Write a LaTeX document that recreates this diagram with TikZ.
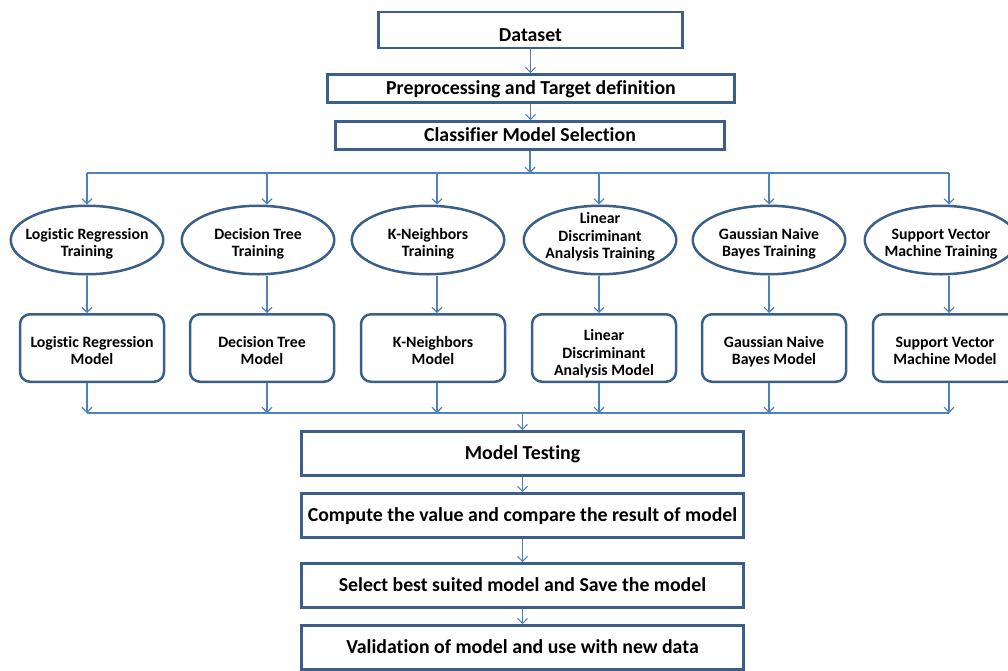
\documentclass[tikz,border=0pt]{standalone}
\usepackage{fontspec}
\setmainfont{Carlito}[Ligatures={NoCommon}]
\usetikzlibrary{arrows.meta,shapes.geometric}
\definecolor{boxblue}{HTML}{3A5F8B}
\definecolor{lineblue}{HTML}{4F81BD}

\begin{document}
\begin{tikzpicture}[x=1pt, y=-1pt, >={Straight Barb[length=5pt,width=10pt]},
  stage/.style={draw=boxblue, line width=2.8pt, inner sep=0pt, text height=15.6pt, text depth=3.4pt,
    font=\fontsize{19.8}{22}\selectfont\bfseries},
  train/.style={ellipse, draw=boxblue, line width=2.5pt, minimum width=152.5pt, minimum height=68.5pt,
    inner xsep=-25pt, inner ysep=-12pt, text depth=0pt, align=center, font=\fontsize{15.8}{17.5}\selectfont\bfseries},
  model/.style={draw=boxblue, line width=2.5pt, rounded corners=10pt, minimum width=144pt, minimum height=67.5pt,
    inner sep=0pt, text depth=0pt, align=center, font=\fontsize{15.8}{17.5}\selectfont\bfseries},
  flow/.style={->, draw=lineblue, line width=1.1pt}]
\useasboundingbox (0,0) rectangle (1008,670);

\node (data) at (530.5,30)[stage, minimum width=304pt, minimum height=36pt, text height=23pt, text depth=0pt]{Dataset};
\node (prep) at (531,88.5)[stage, minimum width=407pt, minimum height=28pt]{Preprocessing and Target definition};
\node (cls) at (530,135.5)[stage, minimum width=389pt, minimum height=28pt]{Classifier Model Selection};
\draw[flow] (data.south) -- (data.south |- prep.north);
\draw[flow] (prep.south -| data.south) -- (data.south |- cls.north);

\foreach \i/\ex/\mx/\ax/\eh/\mh/\etxt/\mtxt in {
  1/87/92/87/33.4/33.4/{Logistic Regression\\Training}/{Logistic Regression\\Model},
  2/258/262/267/33.4/33.4/{Decision Tree\\Training}/{Decision Tree\\Model},
  3/428/433/437/33.4/33.4/{K-Neighbors\\Training}/{K-Neighbors\\Model},
  4/600/604/599/37.8/55.4/{Linear\\Discriminant\\Analysis Training}/{Linear\\Discriminant\\Analysis Model},
  5/769/774/769/33.4/33.4/{Gaussian Naive\\Bayes Training}/{Gaussian Naive\\Bayes Model},
  6/941/945/949/33.4/33.4/{Support Vector\\Machine Training}/{Support Vector\\Machine Model}}
{
  \node (tr\i) at (\ex,240)[train, text height=\eh pt]{\etxt};
  \node (md\i) at (\mx,348)[model, text height=\mh pt]{\mtxt};
  \coordinate (ta\i) at (\ax,173);
  \coordinate (ba\i) at (\ax,413);
  \draw[flow] (ta\i) -- (ta\i |- tr\i.north);
  \draw[flow] (ta\i |- tr\i.south) -- (ta\i |- md\i.north);
  \draw[flow] (ta\i |- md\i.south) -- (ba\i);
}
\draw[lineblue, line width=1.1pt] (ta1) -- (ta6);
\draw[lineblue, line width=1.1pt] (ba1) -- (ba6);
\draw[flow] (cls.south) -- (cls.south |- ta1);

\node (test) at (522.5,453.5)[stage, minimum width=442pt, minimum height=44pt]{Model Testing};
\node (comp) at (522.5,515.5)[stage, minimum width=442pt, minimum height=44pt]{Compute the value and compare the result of model};
\node (sel) at (522.5,585.5)[stage, minimum width=442pt, minimum height=44pt]{Select best suited model and Save the model};
\node (val) at (522.5,647.5)[stage, minimum width=442pt, minimum height=44pt]{Validation of model and use with new data};
\draw[flow] (test.north |- ba1) -- (test.north);
\draw[flow] (test) -- (comp);
\draw[flow] (comp) -- (sel);
\draw[flow] (sel) -- (val);
\end{tikzpicture}
\end{document}
